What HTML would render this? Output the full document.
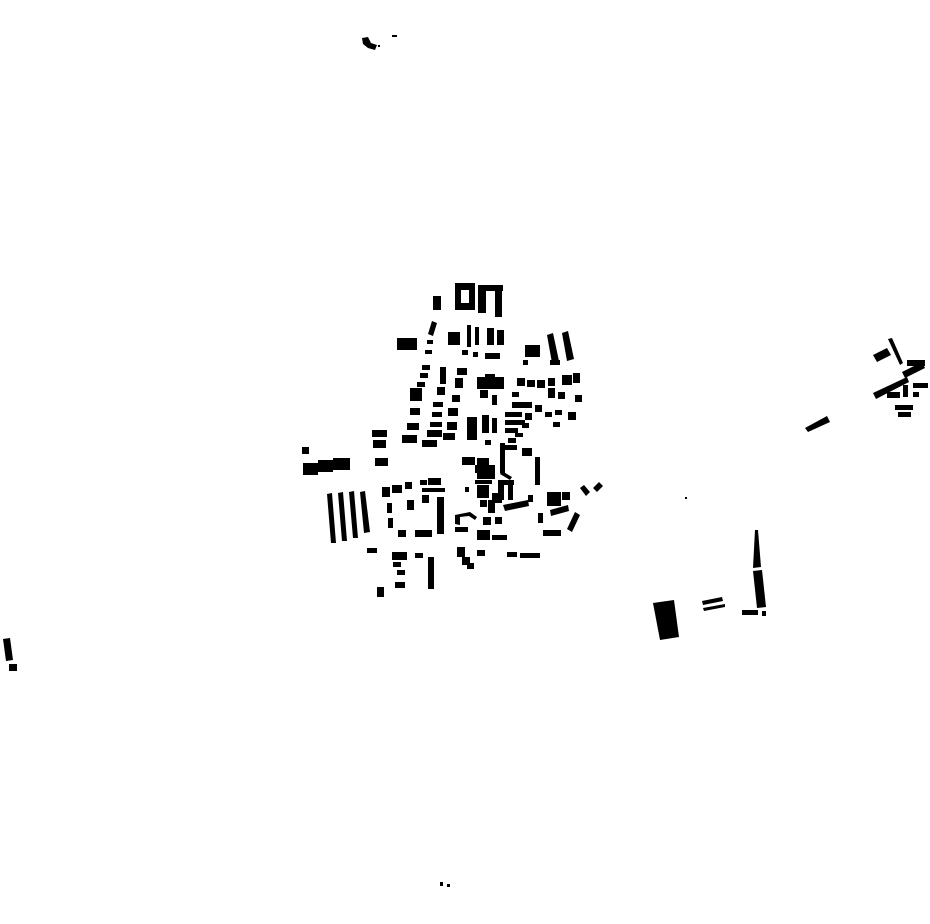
<!DOCTYPE html>
<html><head><meta charset="utf-8"><style>html,body{margin:0;padding:0;background:#fff}svg{display:block}</style></head><body>
<svg width="930" height="924" viewBox="0 0 930 924" xmlns="http://www.w3.org/2000/svg">
<rect width="930" height="924" fill="#fff"/>
<g fill="#000">
<!-- top -->
<polygon points="362,38 368,37 371,43 377,45 375,50 368,48 363,44"/>
<rect x="378" y="45" width="2" height="2"/>
<rect x="392" y="35" width="5" height="2"/>
<!-- bottom -->
<rect x="440" y="882" width="3" height="4"/><rect x="447" y="884" width="3" height="3"/>
<!-- left -->
<polygon points="3,639 10,638 13,660 6,661"/><rect x="9" y="664" width="8" height="7"/>
<!-- central top -->
<rect x="433" y="296" width="8" height="14"/>
<path d="M455,283h20v27h-20z M461,290v13h8v-13z" fill-rule="evenodd"/>
<rect x="478" y="285" width="25" height="6"/><rect x="478" y="285" width="8" height="28"/><rect x="495" y="291" width="7" height="26"/>
<polygon points="432,321 437,323 433,336 428,334"/>
<rect x="397" y="338" width="20" height="12"/>
<rect x="448" y="332" width="12" height="13"/>
<rect x="467" y="325" width="4" height="22"/><rect x="475" y="327" width="4" height="18"/>
<rect x="487" y="328" width="7" height="17"/><rect x="497" y="330" width="7" height="15"/>
<rect x="425" y="350" width="7" height="4"/><rect x="427" y="340" width="6" height="4"/>
<rect x="462" y="350" width="6" height="5"/><rect x="473" y="352" width="5" height="5"/><rect x="485" y="353" width="15" height="6"/>
<!-- slanted rows -->
<rect x="422" y="365" width="8" height="5"/><rect x="420" y="373" width="8" height="5"/><rect x="417" y="382" width="8" height="5"/>
<rect x="410" y="388" width="12" height="13"/><rect x="410" y="408" width="10" height="7"/><rect x="407" y="423" width="12" height="7"/><rect x="402" y="435" width="15" height="8"/>
<rect x="440" y="367" width="6" height="17"/><rect x="437" y="387" width="8" height="8"/><rect x="433" y="402" width="10" height="5"/><rect x="432" y="412" width="10" height="5"/><rect x="430" y="422" width="12" height="5"/><rect x="427" y="430" width="15" height="7"/><rect x="422" y="440" width="15" height="7"/>
<rect x="457" y="368" width="10" height="7"/><rect x="455" y="378" width="8" height="10"/><rect x="452" y="395" width="8" height="7"/><rect x="448" y="408" width="10" height="8"/><rect x="447" y="422" width="10" height="8"/><rect x="443" y="433" width="12" height="7"/>
<rect x="477" y="377" width="27" height="12"/><rect x="485" y="374" width="10" height="4"/><rect x="480" y="390" width="8" height="8"/><rect x="492" y="395" width="5" height="10"/>
<rect x="467" y="417" width="10" height="23"/><rect x="482" y="415" width="7" height="18"/><rect x="492" y="418" width="5" height="15"/><rect x="485" y="440" width="6" height="5"/>
<!-- right top -->
<rect x="525" y="345" width="15" height="12"/><rect x="523" y="360" width="5" height="5"/>
<polygon points="547,335 553,333 559,361 552,363"/><polygon points="562,333 568,331 574,359 567,361"/>
<rect x="550" y="360" width="10" height="5"/>
<rect x="517" y="378" width="8" height="8"/><rect x="527" y="380" width="8" height="7"/><rect x="537" y="380" width="8" height="8"/><rect x="548" y="378" width="7" height="8"/>
<rect x="562" y="375" width="10" height="10"/><rect x="573" y="373" width="7" height="10"/><rect x="575" y="395" width="7" height="7"/>
<rect x="548" y="388" width="7" height="10"/><rect x="558" y="392" width="7" height="7"/><rect x="512" y="392" width="7" height="5"/>
<rect x="512" y="402" width="20" height="6"/><rect x="535" y="405" width="7" height="7"/><rect x="545" y="412" width="7" height="5"/><rect x="555" y="410" width="7" height="5"/><rect x="568" y="412" width="8" height="8"/><rect x="553" y="422" width="7" height="5"/>
<rect x="505" y="412" width="17" height="5"/><rect x="525" y="413" width="7" height="7"/><rect x="505" y="420" width="20" height="5"/><rect x="522" y="423" width="7" height="5"/><rect x="505" y="428" width="13" height="5"/><rect x="515" y="433" width="8" height="4"/><rect x="508" y="438" width="8" height="5"/>
<rect x="522" y="448" width="10" height="8"/><rect x="505" y="445" width="12" height="5"/>
<!-- right mid -->
<rect x="500" y="443" width="5" height="30"/><rect x="535" y="457" width="5" height="28"/>
<polygon points="502,471 512,477 510,480 500,474"/>
<rect x="498" y="480" width="6" height="20"/><rect x="502" y="480" width="12" height="5"/><rect x="508" y="483" width="5" height="17"/>
<polygon points="503,505 528,500 529,506 505,511"/><rect x="528" y="495" width="5" height="7"/>
<rect x="547" y="492" width="14" height="14"/><rect x="562" y="492" width="8" height="8"/>
<polygon points="580,488 584,485 590,492 586,496"/><polygon points="593,488 599,482 603,486 597,492"/>
<polygon points="550,510 568,505 569,511 551,516"/><rect x="538" y="513" width="5" height="10"/>
<polygon points="575,512 580,515 572,532 567,529"/><rect x="543" y="530" width="18" height="6"/>
<rect x="462" y="457" width="13" height="8"/><rect x="477" y="458" width="12" height="7"/><rect x="475" y="465" width="20" height="8"/><rect x="477" y="473" width="18" height="6"/><rect x="475" y="480" width="17" height="4"/>
<rect x="465" y="487" width="4" height="5"/><rect x="477" y="485" width="12" height="13"/><rect x="480" y="500" width="7" height="7"/><rect x="488" y="500" width="7" height="13"/><rect x="492" y="493" width="10" height="10"/>
<rect x="483" y="517" width="8" height="8"/><rect x="495" y="517" width="7" height="7"/>
<polygon points="455,515 470,512 477,517 475,520 469,516 460,517 460,525 455,524"/>
<rect x="455" y="527" width="13" height="5"/>
<rect x="477" y="530" width="13" height="10"/><rect x="492" y="535" width="15" height="5"/>
<rect x="507" y="552" width="10" height="5"/><rect x="520" y="553" width="20" height="5"/>
<rect x="457" y="547" width="8" height="10"/><rect x="462" y="557" width="8" height="8"/><rect x="467" y="563" width="7" height="6"/><rect x="477" y="550" width="8" height="6"/>
<!-- left -->
<rect x="372" y="430" width="15" height="7"/><rect x="373" y="440" width="13" height="8"/><rect x="375" y="458" width="13" height="8"/>
<rect x="302" y="447" width="7" height="7"/>
<rect x="303" y="463" width="15" height="12"/><rect x="318" y="460" width="15" height="12"/><rect x="333" y="458" width="17" height="12"/>
<polygon points="327,494 332,493 336,543 331,543"/><polygon points="338,493 343,492 347,541 342,541"/><polygon points="349,492 354,491 358,538 353,538"/><polygon points="360,492 365,491 370,532 364,533"/>
<rect x="367" y="548" width="10" height="5"/>
<rect x="382" y="487" width="8" height="10"/><rect x="392" y="485" width="10" height="8"/><rect x="405" y="482" width="7" height="7"/><rect x="420" y="480" width="7" height="5"/><rect x="428" y="478" width="13" height="7"/><rect x="422" y="488" width="23" height="4"/>
<rect x="387" y="503" width="5" height="10"/><rect x="388" y="518" width="5" height="10"/><rect x="407" y="500" width="7" height="10"/><rect x="422" y="495" width="7" height="8"/><rect x="437" y="497" width="7" height="37"/>
<rect x="398" y="530" width="8" height="7"/><rect x="415" y="530" width="17" height="7"/>
<rect x="392" y="552" width="15" height="8"/><rect x="393" y="562" width="8" height="5"/><rect x="397" y="570" width="8" height="5"/><rect x="395" y="582" width="10" height="6"/>
<rect x="415" y="553" width="8" height="5"/><rect x="428" y="557" width="6" height="32"/>
<rect x="377" y="587" width="7" height="10"/>
<!-- right cluster -->
<polygon points="888,339 892,338 903,363 900,365"/>
<polygon points="873,355 887,348 891,355 877,362"/>
<polygon points="873,393 907,377 909,382 876,399"/>
<rect x="907" y="360" width="18" height="6"/>
<polygon points="902,372 922,362 925,368 905,378"/>
<rect x="913" y="383" width="15" height="5"/><rect x="903" y="385" width="5" height="12"/><rect x="887" y="392" width="13" height="6"/><rect x="913" y="392" width="6" height="5"/>
<rect x="895" y="405" width="18" height="5"/><rect x="898" y="412" width="13" height="5"/>
<polygon points="805,428 827,416 830,422 808,432"/>
<rect x="685" y="497" width="2" height="2"/>
<!-- bottom right -->
<polygon points="653,603 674,600 679,637 660,640"/>
<polygon points="702,601 722,597 723,601 703,605"/><polygon points="703,608 725,604 725,607 704,611"/>
<polygon points="755,530 758,530 761,567 753,568"/>
<polygon points="753,571 762,570 766,607 757,608"/>
<rect x="742" y="610" width="16" height="5"/><rect x="762" y="611" width="4" height="5"/>
</g>
</svg>
</body></html>
